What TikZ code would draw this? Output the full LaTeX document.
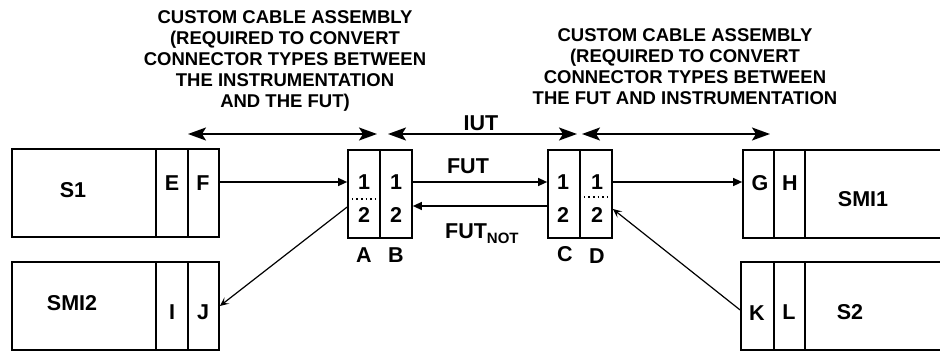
\documentclass[tikz,border=0pt]{standalone}
\usepackage{fontspec}
\setmainfont{Liberation Sans}
\usetikzlibrary{positioning, calc, arrows.meta}

\begin{document}
\begin{tikzpicture}[
    x=1pt, y=-1pt,
    part/.style={rectangle, draw=black, line width=1.7pt, inner sep=0pt, minimum height=88pt},
    txt/.style={font=\bfseries\fontsize{21.5}{21.5}\selectfont, inner sep=0pt},
    head/.style={font=\bfseries\fontsize{18.5}{21}\selectfont, align=center, inner sep=0pt, anchor=north},
    wire/.style={line width=1.3pt, -{Triangle[length=9pt,width=8pt]}},
    slant/.style={line width=1.2pt, -{Stealth[length=9pt,width=8pt,inset=4pt]}},
    span/.style={line width=1.8pt, {Stealth[length=18pt,width=13pt,inset=4pt]}-{Stealth[length=18pt,width=13pt,inset=4pt]}},
    sep/.style={line width=1.6pt, dash pattern=on 1.6pt off 3pt}
]
    \clip (0,0) rectangle (940,351);

    % --- Headers
    \node[head] (headL) at (285,10) {CUSTOM CABLE ASSEMBLY\\(REQUIRED TO CONVERT\\CONNECTOR TYPES BETWEEN\\THE INSTRUMENTATION\\AND THE FUT)};
    \node[head] (headR) at (685,28) {CUSTOM CABLE ASSEMBLY\\(REQUIRED TO CONVERT\\CONNECTOR TYPES BETWEEN\\THE FUT AND INSTRUMENTATION};

    % --- S1 (top left)
    \node[part, minimum width=144pt] (S1) at (84,193) {};
    \node[part, minimum width=32pt]  (E)  at (172,193) {};
    \node[part, minimum width=31pt]  (F)  at (203.5,193) {};
    \node[txt] (S1t) at (73,190) {S1};
    \node[txt] (Et)  at (172,183) {E};
    \node[txt] (Ft)  at (203,183) {F};

    % --- SMI2 (bottom left)
    \node[part, minimum width=144pt] (SMI2) at (84,306) {};
    \node[part, minimum width=32pt]  (I)    at (172,306) {};
    \node[part, minimum width=31pt]  (J)    at (203.5,306) {};
    \node[txt] (SMI2t) at (72,303) {SMI2};
    \node[txt] (It)    at (172,312) {I};
    \node[txt] (Jt)    at (203,312) {J};

    % --- A B
    \node[part, minimum width=32pt] (A) at (364,194) {};
    \node[part, minimum width=32pt] (B) at (396,194) {};
    \node[txt] (A1) at (364,182) {1};
    \node[txt] (A2) at (364,215) {2};
    \node[txt] (B1) at (396,182) {1};
    \node[txt] (B2) at (396,215) {2};
    \draw[sep] ($(A.west)+(0,5)$) -- ($(A.east)+(0,5)$);
    \node[txt] (At) at (364,255) {A};
    \node[txt] (Bt) at (396,255) {B};

    % --- C D
    \node[part, minimum width=32pt] (C) at (564,194) {};
    \node[part, minimum width=32pt] (D) at (596,194) {};
    \node[txt] (C1) at (563,182) {1};
    \node[txt] (C2) at (563,215) {2};
    \node[txt] (D1) at (597,182) {1};
    \node[txt] (D2) at (597,215) {2};
    \draw[sep] ($(D.west)+(0,3)$) -- ($(D.east)+(0,3)$);
    \node[txt] (Ct) at (565,254) {C};
    \node[txt] (Dt) at (597,256) {D};

    % --- SMI1 (top right)
    \node[part, minimum width=31pt]  (G)    at (758.5,194) {};
    \node[part, minimum width=31pt]  (H)    at (789.5,194) {};
    \node[part, minimum width=150pt] (SMI1) at (880,194) {};
    \node[txt] (Gt)    at (760,183) {G};
    \node[txt] (Ht)    at (790,183) {H};
    \node[txt] (SMI1t) at (863,199) {SMI1};

    % --- S2 (bottom right)
    \node[part, minimum width=33pt]  (K)  at (757.5,306) {};
    \node[part, minimum width=31pt]  (L)  at (789.5,306) {};
    \node[part, minimum width=150pt] (S2) at (880,306) {};
    \node[txt] (Kt)  at (757,313) {K};
    \node[txt] (Lt)  at (789,312) {L};
    \node[txt] (S2t) at (850,312) {S2};

    % --- spans
    \coordinate (spanL1) at (188,134);
    \coordinate (spanL2) at (377,134);
    \coordinate (spanM1) at (388,134);
    \coordinate (spanM2) at (577,134);
    \coordinate (spanR1) at (582,134);
    \coordinate (spanR2) at (770,134);
    \draw[span] (spanL1) -- (spanL2);
    \draw[span] (spanM1) -- (spanM2);
    \draw[span] (spanR1) -- (spanR2);
    \node[txt] (iut) at (481,123) {IUT};

    % --- wires
    \draw[wire] (F.east |- A1) -- (A.west |- A1);
    \draw[wire] (B.east |- B1) -- (C.west |- C1);
    \draw[wire] ($(C.west)+(0,12)$) -- ($(B.east)+(0,12)$);
    \draw[wire] (D.east |- D1) -- (G.west |- D1);
    \draw[slant] ($(A.west)+(0,13)$) -- (J.east);
    \draw[slant] ($(K.west)+(0,4)$) -- ($(D.east)+(0,15)$);
    \node[txt] (fut) at (468,166) {FUT};
    \node[txt, anchor=base west] (futnot) at (445,238) {FUT\raisebox{-5pt}{\fontsize{15}{15}\selectfont NOT}};

\end{tikzpicture}
\end{document}
